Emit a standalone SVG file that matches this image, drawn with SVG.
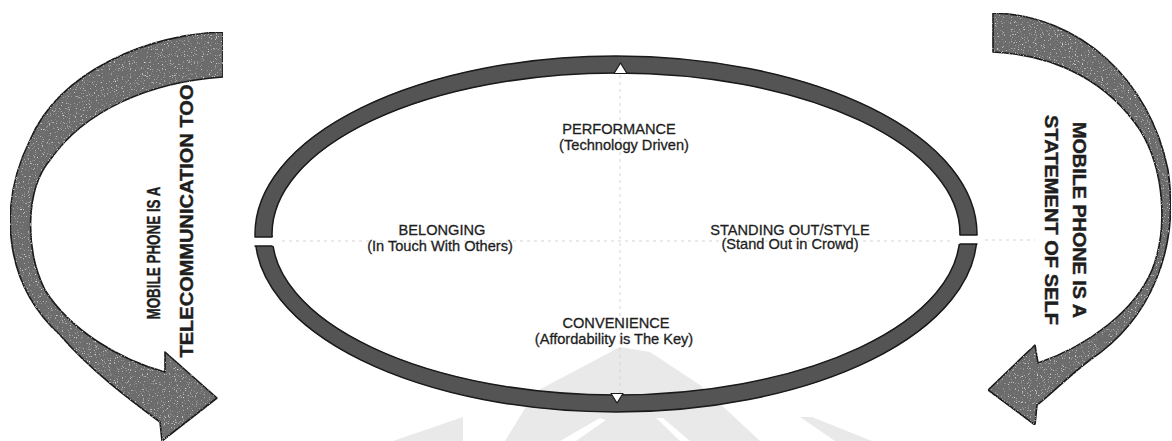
<svg xmlns="http://www.w3.org/2000/svg" width="1172" height="441" viewBox="0 0 1172 441">
<defs>
<style>
.bg{fill:#ffffff}
.wm{fill:#e9e9e9}
.wmcut{fill:#ffffff}
.guide{stroke:#d4d4d4;stroke-width:1;stroke-dasharray:3 4;fill:none}
.band{fill:none;stroke:#545454;stroke-width:17}
.edge{fill:none;stroke:#1a1a1a;stroke-width:1.5}
.arrow{fill:#6c6c6c;stroke:#1a1a1a;stroke-width:1.6;stroke-linejoin:round}
.lbl{font-family:"Liberation Sans",Arial,sans-serif;font-size:14.6px;fill:#1e1e1e;stroke:#1e1e1e;stroke-width:0.3;text-anchor:middle}
.side{font-family:"Liberation Sans",Arial,sans-serif;font-size:18px;font-weight:bold;fill:#1e1e1e;stroke:#1e1e1e;stroke-width:0.4;text-anchor:middle}
.notch{fill:#ffffff;stroke:#1a1a1a;stroke-width:1.2;stroke-linejoin:round}
</style>
<filter id="speckle" x="0" y="0" width="100%" height="100%">
<feTurbulence type="fractalNoise" baseFrequency="0.85" numOctaves="2" seed="4" result="n"/>
<feColorMatrix in="n" type="matrix" values="0 0 0 0 1  0 0 0 0 1  0 0 0 0 1  3.2 0 0 0 -2.0" result="dots"/>
<feComposite in="dots" in2="SourceGraphic" operator="in" result="d2"/>
<feMerge><feMergeNode in="SourceGraphic"/><feMergeNode in="d2"/></feMerge>
</filter>
</defs>
<rect class="bg" x="0" y="0" width="1172" height="441"/>

<g id="watermark">
<polygon class="wm" points="393,441 463,417 463,441"/>
<polygon class="wm" points="505,441 535,392 620,347 650,352 700,385 760,441"/>
<polygon class="wmcut" points="560,441 600,418 606,420 576,441"/>
<polygon class="wmcut" points="656,418 663,418 690,441 680,441"/>
<polygon class="wm" points="800,417 812,417 872,441 835,441"/>
</g>

<g id="guides">
<line class="guide" x1="620" y1="75" x2="620" y2="393"/>
<line class="guide" x1="275" y1="241" x2="955" y2="241"/>
<line class="guide" x1="985" y1="240" x2="1035" y2="240"/>
</g>

<g id="cycle">
<ellipse class="band" cx="616" cy="234" rx="352.5" ry="169.5"/>
<ellipse class="edge" cx="616" cy="234" rx="361" ry="178"/>
<ellipse class="edge" cx="616" cy="234" rx="344" ry="161"/>
<rect x="250" y="237" width="30" height="9" fill="#ffffff"/>
<line class="edge" x1="254.5" y1="237" x2="272.5" y2="237"/>
<line class="edge" x1="254.5" y1="246" x2="272.5" y2="246"/>
<rect x="952" y="235" width="30" height="9" fill="#ffffff"/>
<line class="edge" x1="959.5" y1="235" x2="977.5" y2="235"/>
<line class="edge" x1="959.5" y1="244" x2="977.5" y2="244"/>
<polygon class="notch" points="614,73.5 620.5,63 627,73.5"/>
<polygon class="notch" points="611,393.5 617,403 623,393.5"/>
</g>

<g id="node-performance">
<text class="lbl" x="619" y="134">PERFORMANCE</text>
<text class="lbl" x="624" y="150">(Technology Driven)</text>
</g>
<g id="node-belonging">
<text class="lbl" x="442" y="235">BELONGING</text>
<text class="lbl" x="440" y="251">(In Touch With Others)</text>
</g>
<g id="node-standing-out">
<text class="lbl" x="790" y="235">STANDING OUT/STYLE</text>
<text class="lbl" x="790" y="249">(Stand Out in Crowd)</text>
</g>
<g id="node-convenience">
<text class="lbl" x="616" y="328">CONVENIENCE</text>
<text class="lbl" x="614" y="344">(Affordability is The Key)</text>
</g>

<g id="arrow-left">
<path class="arrow" filter="url(#speckle)" d="M223,32 C150,34 60,70 30,140 C0,200 0,280 60,335 C90,370 130,400 160,422 L162,441 L217,398 L165,352 L165,372 C120,360 70,330 45,290 C25,250 25,190 50,160 C85,110 150,82 223,77 Z"/>
<text class="side" transform="translate(160,253) rotate(-90)" textLength="133" lengthAdjust="spacingAndGlyphs">MOBILE PHONE IS A</text>
<text class="side" transform="translate(193,221) rotate(-90)" textLength="273" lengthAdjust="spacingAndGlyphs">TELECOMMUNICATION TOO</text>
</g>

<g id="arrow-right">
<path class="arrow" filter="url(#speckle)" d="M993,13 C1080,15 1150,80 1168,170 C1180,250 1150,320 1090,360 C1070,375 1050,395 1037,405 L1035,425 L988,390 L1035,345 L1038,363 C1090,345 1135,310 1152,270 C1168,230 1165,170 1140,130 C1110,85 1060,55 993,52 Z"/>
<text class="side" transform="translate(1073,220) rotate(90)" textLength="196" lengthAdjust="spacingAndGlyphs">MOBILE PHONE IS A</text>
<text class="side" transform="translate(1045,220) rotate(90)" textLength="210" lengthAdjust="spacingAndGlyphs">STATEMENT OF SELF</text>
</g>
</svg>
